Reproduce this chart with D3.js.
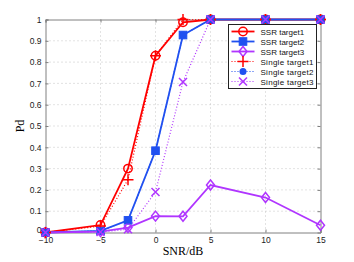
<!DOCTYPE html>
<html>
<head>
<meta charset="utf-8">
<script src="https://cdn.jsdelivr.net/npm/d3@7"></script>
<style>
  body { margin: 0; background: #fff; }
  svg { display: block; }
</style>
</head>
<body>
<div id="chart"></div>
<script>
// data
var snr = [-10, -5, -2.5, 0, 2.5, 5, 10, 15];
var ssr1 = [0, 0.035, 0.30, 0.83, 0.987, 1, 1, 1];
var ssr2 = [0, 0.008, 0.057, 0.384, 0.927, 1, 1, 1];
var ssr3 = [0, 0.004, 0.023, 0.077, 0.076, 0.223, 0.164, 0.034];
var single1 = [0, 0.03, 0.248, 0.83, 1, 1, 1, 1];
var single2 = [0, 0.008, 0.057, 0.384, 0.927, 1, 1, 1];
var single3 = [0, 0.002, 0.015, 0.19, 0.707, 1, 1, 1];
var xTicks = [-10, -5, 0, 5, 10, 15];
var yTicks = [0.1, 0.2, 0.3, 0.4, 0.5, 0.6, 0.7, 0.8, 0.9, 1];
var names = ["SSR target1", "SSR target2", "SSR target3", "Single target1", "Single target2", "Single target3"];

var red = "#ff0000", blue = "#2050f0", purple = "#b035ff";

var series = [
  { name: names[0], vals: ssr1, color: red, dash: null, marker: "circle" },
  { name: names[1], vals: ssr2, color: blue, dash: null, marker: "square" },
  { name: names[2], vals: ssr3, color: purple, dash: null, marker: "diamond" },
  { name: names[3], vals: single1, color: red, dash: "1,2", marker: "plus" },
  { name: names[4], vals: single2, color: blue, dash: "1,2", marker: "dot" },
  { name: names[5], vals: single3, color: purple, dash: "1,2", marker: "cross" }
];

var W = 354, H = 262;
var m = { left: 45.5, top: 19.5, right: 320.5, bottom: 232.5 };

var svg = d3.select("#chart").append("svg")
  .attr("width", W).attr("height", H);

var x = d3.scaleLinear().domain([-10, 15]).range([m.left, m.right]);
var y = d3.scaleLinear().domain([0, 1]).range([m.bottom, m.top]);

// grid
svg.append("g").selectAll("line").data(xTicks.slice(1, -1)).enter().append("line")
  .attr("x1", d => x(d)).attr("x2", d => x(d))
  .attr("y1", m.top).attr("y2", m.bottom)
  .attr("stroke", "#b8b8b8").attr("stroke-width", 0.8).attr("stroke-dasharray", "1,3");
svg.append("g").selectAll("line").data(yTicks.slice(0, -1)).enter().append("line")
  .attr("x1", m.left).attr("x2", m.right)
  .attr("y1", d => y(d)).attr("y2", d => y(d))
  .attr("stroke", "#b8b8b8").attr("stroke-width", 0.8).attr("stroke-dasharray", "1,3");

// axes
var axisColor = "#808080";
svg.append("g").attr("transform", "translate(0," + m.bottom + ")")
  .call(d3.axisBottom(x).tickValues(xTicks).tickSize(-3).tickPadding(4)
    .tickFormat(d => d < 0 ? "\u2212" + (-d) : d));
svg.append("g").attr("transform", "translate(" + m.left + ",0)")
  .call(d3.axisLeft(y).tickValues([0].concat(yTicks)).tickSize(-3).tickPadding(4)
    .tickFormat(d => d === 0 ? "0" : d3.format("")(d)));
svg.append("g").attr("transform", "translate(0," + m.top + ")")
  .call(d3.axisTop(x).tickValues(xTicks).tickSize(-3).tickFormat(""));
svg.append("g").attr("transform", "translate(" + m.right + ",0)")
  .call(d3.axisRight(y).tickValues(yTicks).tickSize(-3).tickFormat(""));

svg.selectAll(".domain, .tick line").attr("stroke", axisColor);
svg.selectAll(".tick text")
  .attr("font-family", "Liberation Sans, Arial, sans-serif")
  .attr("font-size", 8.5).attr("fill", "#222");
// the y "0" sits just above the x "-10" label
svg.selectAll(".tick text").filter(function (d) { return d === 0 && this.getAttribute("x") < 0; })
  .attr("dy", "0.05em");

// labels
svg.append("text").attr("x", 183).attr("y", 255)
  .attr("text-anchor", "middle")
  .attr("font-family", "Liberation Serif, Times New Roman, serif")
  .attr("font-size", 12).text("SNR/dB");
svg.append("text")
  .attr("transform", "translate(24,126) rotate(-90)")
  .attr("text-anchor", "middle")
  .attr("font-family", "Liberation Serif, Times New Roman, serif")
  .attr("font-size", 12).text("Pd");

function drawMarker(g, type, color) {
  if (type === "circle") {
    g.append("circle").attr("r", 4.2).attr("fill", "none").attr("stroke", color).attr("stroke-width", 1.5);
  } else if (type === "square") {
    g.append("rect").attr("x", -3.8).attr("y", -3.8).attr("width", 7.6).attr("height", 7.6)
      .attr("fill", color).attr("stroke", color).attr("stroke-width", 1);
  } else if (type === "diamond") {
    g.append("path").attr("d", "M0,-5L4,0L0,5L-4,0Z")
      .attr("fill", "none").attr("stroke", color).attr("stroke-width", 1.5);
  } else if (type === "plus") {
    g.append("path").attr("d", "M-5.5,0H5.5M0,-5.5V5.5")
      .attr("stroke", color).attr("stroke-width", 1.5);
  } else if (type === "dot") {
    g.append("circle").attr("r", 3.5).attr("fill", color);
  } else if (type === "cross") {
    g.append("path").attr("d", "M-4,-4L4,4M-4,4L4,-4")
      .attr("stroke", color).attr("stroke-width", 1.5);
  }
}

var line = d3.line().x((d, i) => x(snr[i])).y(d => y(d));

// dotted lines first, solid lines over them, then markers
var order = [3, 4, 5, 0, 1, 2];
order.forEach(function (k) {
  var s = series[k];
  svg.append("path").datum(s.vals)
    .attr("d", line)
    .attr("fill", "none")
    .attr("stroke", s.color)
    .attr("stroke-width", s.dash ? 1.2 : 1.8)
    .attr("stroke-dasharray", s.dash);
});
[0, 1, 2, 3, 4, 5].forEach(function (k) {
  var s = series[k];
  s.vals.forEach(function (v, i) {
    var g = svg.append("g").attr("transform", "translate(" + x(snr[i]) + "," + y(v) + ")");
    drawMarker(g, s.marker, s.color);
  });
});

// legend
var lg = svg.append("g").attr("transform", "translate(228.5,24.5)");
lg.append("rect").attr("width", 88).attr("height", 64)
  .attr("fill", "#fff").attr("stroke", "#222").attr("stroke-width", 1);
series.forEach(function (s, i) {
  var row = lg.append("g").attr("transform", "translate(0," + (7 + i * 10) + ")");
  row.append("line").attr("x1", 3).attr("x2", 26).attr("y1", 0).attr("y2", 0)
    .attr("stroke", s.color).attr("stroke-width", s.dash ? 1.2 : 1.8)
    .attr("stroke-dasharray", s.dash);
  drawMarker(row.append("g").attr("transform", "translate(14.5,0)"), s.marker, s.color);
  row.append("text").attr("x", 32).attr("y", 3)
    .attr("font-family", "Liberation Sans, Arial, sans-serif")
    .attr("font-size", 8).attr("fill", "#111")
    .attr("textLength", s.name.length > 12 ? 53 : null)
    .text(s.name);
});
</script>
</body>
</html>
